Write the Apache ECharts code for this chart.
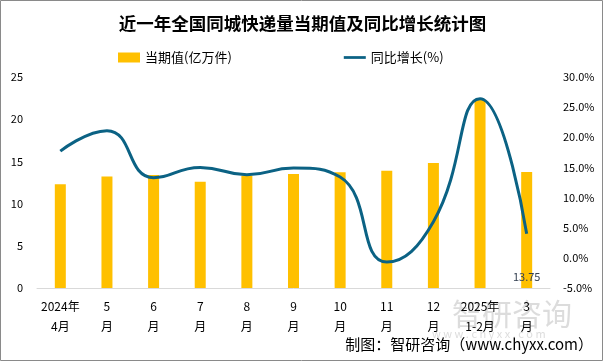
<!DOCTYPE html>
<html><head><meta charset="utf-8">
<script src="https://cdn.jsdelivr.net/npm/echarts@6/dist/echarts.min.js"></script>
<style>html,body{margin:0;padding:0;background:#fff}#c{width:605px;height:363px}</style>
</head><body><div id="c"></div>
<script>
const categories = ['2024年\n4月','5\n月','6\n月','7\n月','8\n月','9\n月','10\n月','11\n月','12\n月','2025年\n1-2月','3\n月'];
const currentValues = [12.3, 13.2, 13.4, 12.6, 13.3, 13.5, 13.7, 13.9, 14.8, 22.3, 13.75];
const yoyGrowth = [17.7, 21.1, 13.3, 15.0, 13.8, 14.9, 13.4, -0.7, 6.0, 26.4, 4.0];
const leftTicks = {min: 0, max: 25, interval: 5};
const rightTicks = {min: -5, max: 30, interval: 5};
const labelledIndex = 10;

const font = '"Noto Sans CJK SC", "Noto Sans", sans-serif';
const chart = echarts.init(document.getElementById('c'));
chart.setOption({
  animation: false,
  textStyle: {fontFamily: font},
  title: {
    text: '近一年全国同城快递量当期值及同比增长统计图',
    left: 'center', top: 10,
    textStyle: {fontSize: 17.5, fontWeight: 'bold', color: '#000', fontFamily: font}
  },
  legend: {
    top: 46, left: 113, itemGap: 112,
    itemWidth: 22, itemHeight: 10,
    textStyle: {fontSize: 13, color: '#000'},
    data: [
      {name: '当期值(亿万件)', icon: 'rect'},
      {name: '同比增长(%)', icon: 'path://M0,4 L24,4 L24,7 L0,7 Z'}
    ]
  },
  grid: {left: 37, right: 55, top: 77, bottom: 75},
  xAxis: {
    type: 'category', data: categories,
    axisLine: {lineStyle: {color: '#d9d9d9', width: 1}},
    axisTick: {show: false},
    axisLabel: {color: '#000', fontSize: 12, lineHeight: 20, margin: 8, interval: 0}
  },
  yAxis: [
    {type: 'value', min: leftTicks.min, max: leftTicks.max, interval: leftTicks.interval,
     splitLine: {show: false}, axisLine: {show: false}, axisTick: {show: false},
     axisLabel: {color: '#000', fontSize: 11, margin: 14}},
    {type: 'value', min: rightTicks.min, max: rightTicks.max, interval: rightTicks.interval,
     splitLine: {show: false}, axisLine: {show: false}, axisTick: {show: false},
     axisLabel: {color: '#000', fontSize: 11, margin: 13, formatter: v => v.toFixed(1) + '%'}}
  ],
  series: [
    {name: '当期值(亿万件)', type: 'bar', barWidth: 11,
     itemStyle: {color: '#FFC000'},
     data: currentValues.map((v, i) => i === labelledIndex ?
       {value: v, label: {show: true, position: 'insideBottom', distance: 6, color: '#333f50', fontSize: 11, formatter: '{c}'}} : v)},
    {name: '同比增长(%)', type: 'line', yAxisIndex: 1, smooth: 0.5, symbol: 'none',
     lineStyle: {color: '#0B6284', width: 3}, itemStyle: {color: '#0B6284'},
     data: yoyGrowth}
  ],
  graphic: [
    {type: 'rect', shape: {x: 0.5, y: 0.5, width: 602, height: 360}, style: {fill: 'none', stroke: '#8a8a8a', lineWidth: 1}, silent: true},
    {type: 'text', left: 452, top: 299, style: {text: '智研咨询', fontSize: 30, fill: 'rgba(140,140,140,0.3)', fontFamily: font}, silent: true},
    {type: 'text', left: 432, top: 328, style: {text: 'w w w . c h y x x . c o m', fontSize: 11, fill: 'rgba(140,140,140,0.3)', fontFamily: font}, silent: true},
    {type: 'text', right: 12, top: 337, style: {text: '制图：智研咨询（www.chyxx.com）', fontSize: 15, fill: '#000', fontFamily: font}, silent: true}
  ]
});
</script></body></html>
